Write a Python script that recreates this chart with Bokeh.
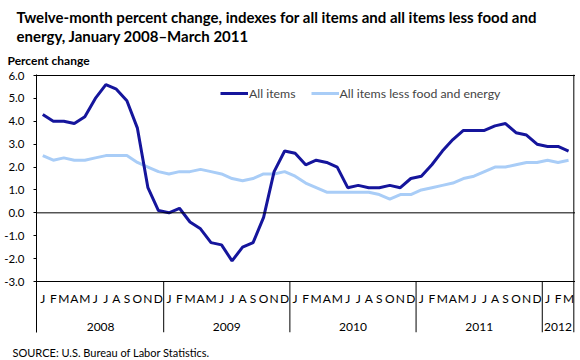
from bokeh.plotting import figure
from bokeh.layouts import column
from bokeh.models import (ColumnDataSource, FixedTicker, PrintfTickFormatter, Span,
                          Legend, LegendItem, Range1d)
from bokeh.core.properties import value
from bokeh.embed import file_html
from bokeh.resources import INLINE

# ---------------- data ----------------
month_letters = ["J", "F", "M", "A", "M", "J", "J", "A", "S", "O", "N", "D"]
years = ["2008", "2009", "2010", "2011", "2012"]
months_in_year = [12, 12, 12, 12, 3]

all_items = [4.3, 4.0, 4.0, 3.9, 4.2, 5.0, 5.6, 5.4, 4.9, 3.7, 1.1, 0.1,
             0.0, 0.2, -0.4, -0.7, -1.3, -1.4, -2.1, -1.5, -1.3, -0.2, 1.8, 2.7,
             2.6, 2.1, 2.3, 2.2, 2.0, 1.1, 1.2, 1.1, 1.1, 1.2, 1.1, 1.5,
             1.6, 2.1, 2.7, 3.2, 3.6, 3.6, 3.6, 3.8, 3.9, 3.5, 3.4, 3.0,
             2.9, 2.9, 2.7]
core = [2.5, 2.3, 2.4, 2.3, 2.3, 2.4, 2.5, 2.5, 2.5, 2.2, 2.0, 1.8,
        1.7, 1.8, 1.8, 1.9, 1.8, 1.7, 1.5, 1.4, 1.5, 1.7, 1.7, 1.8,
        1.6, 1.3, 1.1, 0.9, 0.9, 0.9, 0.9, 0.9, 0.8, 0.6, 0.8, 0.8,
        1.0, 1.1, 1.2, 1.3, 1.5, 1.6, 1.8, 2.0, 2.0, 2.1, 2.2, 2.2,
        2.3, 2.2, 2.3]
y_ticks = [-3, -2, -1, 0, 1, 2, 3, 4, 5, 6]

title_lines = ["Twelve-month percent change, indexes for all items and all items less food and",
               "energy, January 2008\u2013March 2011"]
y_title = "Percent change"
source_note = "SOURCE: U.S. Bureau of Labor Statistics."
series_names = ["All items", "All items less food and energy"]

# ---------------- layout constants ----------------
FONT = "Lato"
DARK = "#15159c"
LIGHT = "#a9cdf7"
W = 575
PXX = 10.516          # px per month
PXY = 22.89           # px per percent unit
X0 = -0.5 - 1.0 / PXX  # frame left (page x 36)
X1 = X0 + 539 / PXX
TOP_H = 68             # header strip height
Y1 = 6 + 1.0 / PXY     # frame top at page y 74
Y0 = 6 - (332 - 75) / PXY


def sy2y(sy):  # page px -> data y in main chart
    return 6 - (sy - 75) / PXY


def no_align(fig):
    try:
        fig.frame_align = False
    except Exception:
        pass


# ---------------- header strip ----------------
head = figure(width=W, height=TOP_H, output_backend="svg", toolbar_location=None,
              x_axis_location=None, y_axis_location=None,
              x_range=Range1d(0, W), y_range=Range1d(TOP_H, 0),
              min_border_left=0, min_border_right=0, min_border_top=0, min_border_bottom=0)
no_align(head)
head.outline_line_color = None
head.xgrid.visible = False
head.ygrid.visible = False
head.text(x=[16, 16], y=[16, 35], text=title_lines, text_align="left", text_baseline="middle",
          text_font=value(FONT), text_font_size="15px", text_font_style="bold", text_color="black")
head.text(x=[7], y=[60], text=[y_title], text_align="left", text_baseline="middle",
          text_font=value(FONT), text_font_size="12px", text_font_style="bold", text_color="black")

# ---------------- main chart ----------------
n = len(all_items)
x = list(range(n))
src = ColumnDataSource(dict(x=x, all_items=all_items, core=core))

p = figure(width=W, height=268, output_backend="svg", toolbar_location=None,
           x_axis_location=None, y_axis_location="left",
           x_range=Range1d(X0, X1), y_range=Range1d(Y0, Y1),
           min_border_left=36, min_border_right=0, min_border_top=6, min_border_bottom=4)
no_align(p)
p.outline_line_color = None
p.xgrid.visible = False
p.ygrid.visible = False

ax = p.yaxis[0]
ax.ticker = FixedTicker(ticks=y_ticks)
ax.formatter = PrintfTickFormatter(format="%.1f")
ax.major_tick_out = 3
ax.major_tick_in = 0
ax.minor_tick_line_color = None
ax.axis_line_color = "black"
ax.major_tick_line_color = "black"
ax.major_label_text_font = FONT
ax.major_label_text_font_size = "11.5px"
ax.major_label_text_color = "black"
ax.major_label_standoff = 9

# frame lines
for loc in [6, 0, -3]:
    p.add_layout(Span(location=loc, dimension="width", line_color="black", line_width=1))
p.add_layout(Span(location=n - 0.5, dimension="height", line_color="black", line_width=1))

# year separators
bounds = []
acc = 0
for m in months_in_year[:-1]:
    acc += m
    bounds.append(acc - 0.5)
p.segment(x0=bounds, y0=[-3] * len(bounds), x1=bounds, y1=[Y0] * len(bounds),
          line_color="black", line_width=1)

# month letters and year labels
mx, ml, yx = [], [], []
start = 0
for m in months_in_year:
    for k in range(m):
        mx.append(start + k)
        ml.append(month_letters[k])
    yx.append(start + (m - 1) / 2)
    start += m
p.text(x=mx, y=[sy2y(298)] * len(mx), text=ml, text_align="center", text_baseline="middle",
       text_font=value(FONT), text_font_size="12px", text_color="black")
p.text(x=yx, y=[sy2y(326)] * len(yx), text=years, text_align="center", text_baseline="middle",
       text_font=value(FONT), text_font_size="12px", text_color="black")

# series
r_core = p.line("x", "core", source=src, line_color=LIGHT, line_width=3)
r_all = p.line("x", "all_items", source=src, line_color=DARK, line_width=3)

legend = Legend(items=[LegendItem(label=series_names[0], renderers=[r_all]),
                       LegendItem(label=series_names[1], renderers=[r_core])],
                orientation="horizontal", location=(184, 229),
                border_line_color=None, background_fill_alpha=0,
                padding=0, margin=0, spacing=15, glyph_width=28, glyph_height=20,
                label_standoff=1, label_text_font=FONT, label_text_font_size="12.3px",
                label_height=20)
p.add_layout(legend, "center")

# ---------------- footer strip ----------------
FOOT_H = 22
foot = figure(width=W, height=FOOT_H, output_backend="svg", toolbar_location=None,
              x_axis_location=None, y_axis_location=None,
              x_range=Range1d(0, W), y_range=Range1d(FOOT_H, 0),
              min_border_left=0, min_border_right=0, min_border_top=0, min_border_bottom=0)
no_align(foot)
foot.outline_line_color = None
foot.xgrid.visible = False
foot.ygrid.visible = False
foot.text(x=[12], y=[16], text=[source_note], text_align="left", text_baseline="middle",
          text_font=value(FONT), text_font_size="11px", text_color="black")

layout = column(head, p, foot, spacing=0)
open("out.html", "w").write(file_html(layout, INLINE))
